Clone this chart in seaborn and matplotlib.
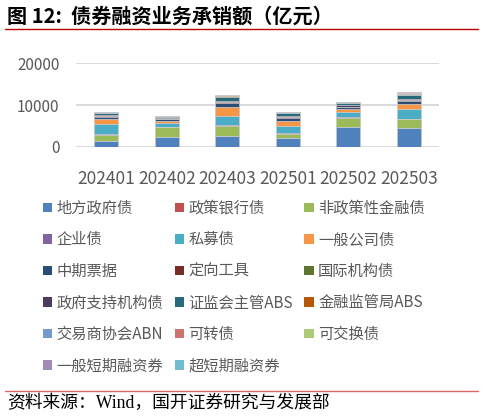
import numpy as np
import pandas as pd
import matplotlib
matplotlib.use("Agg")
import matplotlib.pyplot as plt
from matplotlib.patches import Patch
from matplotlib.lines import Line2D
import seaborn as sns

# data (亿元)
months = ["202401", "202402", "202403", "202501", "202502", "202503"]

series_names = [
    "地方政府债", "政策银行债", "非政策性金融债",
    "企业债", "私募债", "一般公司债",
    "中期票据", "定向工具", "国际机构债",
    "政府支持机构债", "证监会主管ABS", "金融监管局ABS",
    "交易商协会ABN", "可转债", "可交换债",
    "一般短期融资券", "超短期融资券",
]

local_gov   = [1440, 2400, 2640, 2160, 4800, 4400]
policy_bank = [0, 0, 0, 0, 0, 0]
fin_bond    = [1360, 2240, 2240, 960, 2160, 2160]
enterprise  = [240, 160, 240, 160, 160, 160]
private     = [2320, 880, 2320, 1760, 1120, 2400]
corporate   = [1200, 560, 2160, 1120, 800, 1200]
mtn         = [640, 480, 960, 800, 480, 720]
ppn         = [80, 40, 120, 80, 80, 80]
intl        = [0, 0, 0, 0, 0, 0]
gov_support = [240, 160, 320, 240, 400, 400]
csrc_abs    = [640, 240, 1040, 800, 480, 800]
nfra_abs    = [40, 20, 60, 40, 40, 60]
abn         = [100, 100, 150, 140, 150, 240]
convertible = [40, 20, 30, 20, 40, 200]
exchangeable = [10, 10, 10, 10, 10, 10]
cp          = [40, 40, 60, 60, 40, 240]
scp         = [40, 40, 60, 60, 60, 60]

values = [local_gov, policy_bank, fin_bond, enterprise, private, corporate,
          mtn, ppn, intl, gov_support, csrc_abs, nfra_abs, abn,
          convertible, exchangeable, cp, scp]

colors = [
    "#4F81BD", "#C0504D", "#9BBB59", "#8064A2", "#4BACC6", "#F79646",
    "#2C4D75", "#772C2A", "#5F7530", "#4D3B62", "#276A7C", "#B65708",
    "#729ACA", "#CD7371", "#AFC97A", "#A18CB5", "#6FBDD1",
]

sns.set_style("white")
plt.rcParams["font.family"] = ["Noto Sans CJK SC", "DejaVu Sans"]

GRAY = "#595959"

fig = plt.figure(figsize=(4.84, 4.17), dpi=100)
ax = fig.add_axes([0.157, 0.648, 0.75, 0.2])

# stacked bars: draw cumulative totals from the top layer down
cum = np.cumsum(np.array(values), axis=0)
for i in range(len(series_names) - 1, -1, -1):
    df = pd.DataFrame({"month": months, "total": cum[i]})
    sns.barplot(data=df, x="month", y="total", order=months, color=colors[i],
                saturation=1, width=0.4, errorbar=None, ax=ax,
                edgecolor="#D4D4D4", linewidth=0.5)

ax.set_ylim(0, 20000)
ax.set_yticks([0, 10000, 20000])
ax.set_xlim(-0.5, 5.5)
ax.yaxis.grid(True, color="#D9D9D9", linewidth=1.4)
ax.set_axisbelow(True)
for s in ax.spines.values():
    s.set_visible(False)
ax.set_xlabel("")
ax.set_ylabel("")
ax.tick_params(axis="y", labelsize=11, colors=GRAY, length=0, pad=12)
ax.tick_params(axis="x", labelsize=12.5, colors=GRAY, length=0, pad=17)

# legend, filled row-wise in 3 columns
handles = [Patch(facecolor=c, edgecolor="none") for c in colors]
order = [0, 3, 6, 9, 12, 15, 1, 4, 7, 10, 13, 16, 2, 5, 8, 11, 14]
leg = fig.legend([handles[k] for k in order], [series_names[k] for k in order],
                 ncol=3, loc="upper left", bbox_to_anchor=(0.088, 0.521),
                 frameon=False, fontsize=11, handlelength=0.6, handleheight=0.6,
                 handletextpad=0.3, columnspacing=0.75, labelspacing=0.95,
                 borderpad=0, borderaxespad=0)
for t in leg.get_texts():
    t.set_color(GRAY)

# title and source
fig.text(0.014, 0.961, "图 12:  债券融资业务承销额（亿元）", fontsize=14.5,
         fontweight="bold", va="center", ha="left", color="black")
fig.add_artist(Line2D([0.01, 0.988], [0.930, 0.930], color="#C00000", linewidth=1.0))
fig.add_artist(Line2D([0.01, 0.988], [0.062, 0.062], color="#E06666", linewidth=1.0))
fig.text(0.014, 0.033, "资料来源：Wind，国开证券研究与发展部", fontsize=12.8,
         va="center", ha="left", color="black",
         family=["Liberation Serif", "Noto Sans CJK SC"])

fig.savefig("out.png", dpi=100)
